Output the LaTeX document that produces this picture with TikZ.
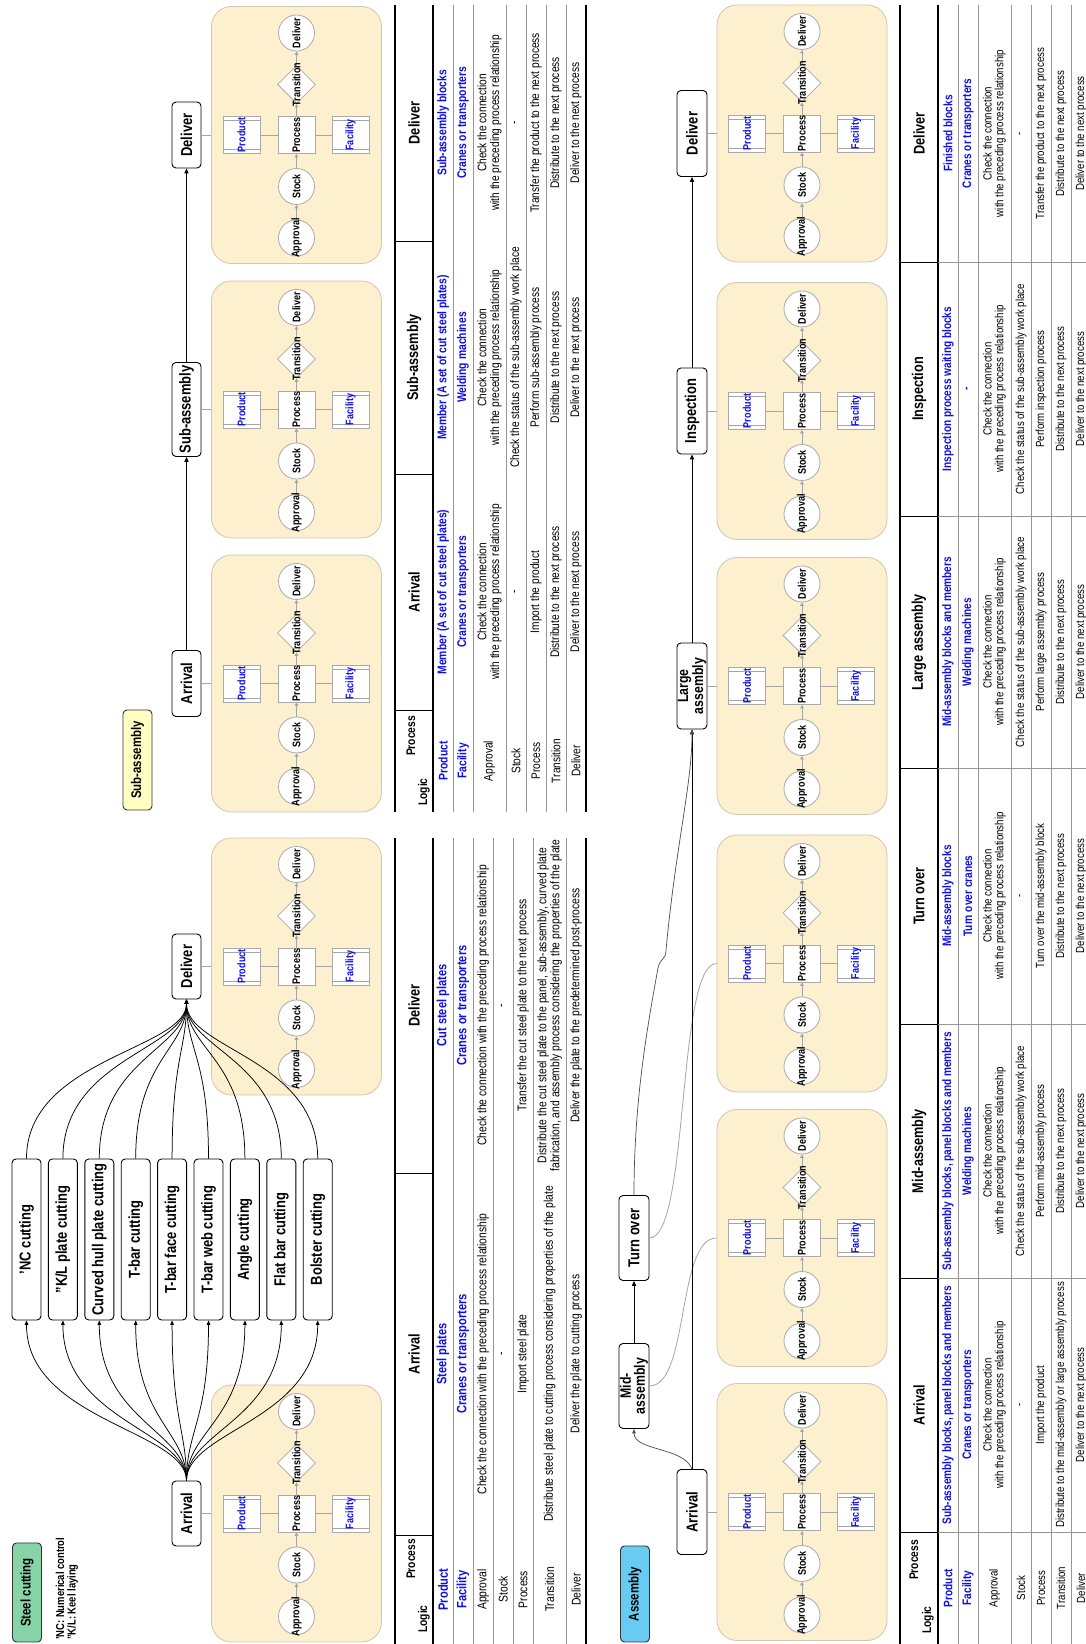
\documentclass[tikz,border=0pt]{standalone}
\usepackage{fontspec}
\setmainfont{Liberation Sans}[FakeStretch=0.82]
\usetikzlibrary{shapes.geometric,arrows.meta}

\definecolor{panelfill}{RGB}{253,240,207}
\definecolor{panelline}{RGB}{208,198,178}
\definecolor{shapeline}{RGB}{170,170,170}
\definecolor{linkgrey}{RGB}{165,165,165}
\definecolor{rulegrey}{RGB}{150,150,150}
\definecolor{itemblue}{RGB}{15,15,235}
\definecolor{tagsteel}{RGB}{134,212,168}
\definecolor{tagsub}{RGB}{255,255,196}
\definecolor{tagasm}{RGB}{104,204,242}

\tikzset{
  panelbox/.style={rectangle, draw=panelline, fill=panelfill, rounded corners=20pt,
    line width=0.8pt, minimum width=257pt, minimum height=170pt, inner sep=0pt},
  circ/.style={circle, draw=shapeline, fill=white, line width=0.8pt, minimum size=36pt, inner sep=0pt},
  sqbox/.style={rectangle, draw=shapeline, fill=white, line width=0.8pt, minimum size=37pt, inner sep=0pt},
  dia/.style={diamond, draw=shapeline, fill=white, line width=0.8pt, minimum width=38pt, minimum height=38pt, inner sep=0pt},
  lbl/.style={inner sep=0pt, font=\fontsize{11}{11}\selectfont\bfseries},
  garrow/.style={draw=linkgrey, line width=0.9pt, -{Triangle[length=3.5pt,width=3.6pt]}},
  gline/.style={draw=linkgrey, line width=0.8pt},
  stagebox/.style={rectangle, draw=black, fill=white, rounded corners=4pt, line width=0.9pt,
    inner sep=0pt, minimum height=29pt, align=center, font=\fontsize{15.8}{14.5}\selectfont\bfseries},
  twoline/.style={font=\fontsize{15}{14}\selectfont\bfseries},
  tagbox/.style={rectangle, draw=black!80, rounded corners=4pt, line width=0.9pt, inner sep=0pt,
    minimum height=29pt, font=\fontsize{14}{14}\selectfont\bfseries},
  flow/.style={draw=black, line width=1pt, -{Triangle[length=5pt,width=4.2pt]}},
  onion/.style={draw=black, line width=0.75pt, -{Triangle[length=4.5pt,width=3.6pt]}},
  thinflow/.style={draw=black!70, line width=0.7pt, -{Triangle[length=4.5pt,width=3.6pt]}},
  glink/.style={draw=linkgrey, line width=0.8pt},
  trule/.style={draw=black, line width=1.6pt},
  grule/.style={draw=rulegrey, line width=0.6pt},
  vrule/.style={draw=black, line width=0.8pt},
  hdr/.style={inner sep=0pt, font=\fontsize{15.5}{16}\selectfont\bfseries},
  corner/.style={inner sep=0pt, font=\fontsize{12.5}{13}\selectfont\bfseries},
  scell/.style={inner sep=0pt, align=center, font=\fontsize{12.6}{13}\selectfont},
  sblue/.style={scell, font=\fontsize{13.5}{13}\selectfont\bfseries, text=itemblue},
  ucell/.style={inner sep=0pt, align=center, font=\fontsize{12.4}{12.6}\selectfont},
  ublue/.style={ucell, font=\fontsize{12.6}{12.6}\selectfont\bfseries, text=itemblue},
  acell/.style={inner sep=0pt, align=center, font=\fontsize{11.8}{11.7}\selectfont},
  ablue/.style={acell, font=\fontsize{12.3}{11.7}\selectfont\bfseries, text=itemblue},
}

% one logic panel: approval -> stock -> process -> transition -> deliver,
% with product and facility attached to the process
\newcommand{\flowpanel}[3]{%
  \node[panelbox] (#1) at (#2,#3) {};
  \begin{scope}[xshift=#2pt,yshift=#3pt]
    \node[circ]  (#1-ap) at (-103,0) {};
    \node[circ]  (#1-st) at (-51.5,0) {};
    \node[sqbox] (#1-pc) at (0,0) {};
    \node[dia]   (#1-tr) at (50.5,0) {};
    \node[circ]  (#1-dl) at (102,0) {};
    \node[sqbox] (#1-pd) at (0,55) {};
    \node[sqbox] (#1-fa) at (0,-54) {};
    \draw[gline] (-14.5,36.5) -- (-14.5,73.5) (14.5,36.5) -- (14.5,73.5);
    \draw[gline] (-14.5,-72.5) -- (-14.5,-35.5) (14.5,-72.5) -- (14.5,-35.5);
  \end{scope}
  \draw[garrow] (#1-ap) -- (#1-st);
  \draw[garrow] (#1-st) -- (#1-pc);
  \draw[garrow] (#1-pc) -- (#1-tr);
  \draw[garrow] (#1-tr) -- (#1-dl);
  \draw[gline] (#1-pd) -- (#1-pc);
  \draw[gline] (#1-pc) -- (#1-fa);
  \node[lbl] at (#1-ap) {Approval};
  \node[lbl] at (#1-st) {Stock};
  \node[lbl] at (#1-pc) {Process};
  \node[lbl] at (#1-tr) {Transition};
  \node[lbl] at (#1-dl) {Deliver};
  \node[lbl, text=itemblue] at (#1-pd) {Product};
  \node[lbl, text=itemblue] at (#1-fa) {Facility};
}

\begin{document}
\begin{tikzpicture}[x=1pt,y=1pt,rotate=90,transform shape]
\useasboundingbox (0,0) rectangle (1644,-1086);
\fill[white] (0,0) rectangle (1644,-1086);

% ---------------- Steel cutting ----------------
\node[tagbox, fill=tagsteel, minimum width=99pt] (tsteel) at (51.5,-27) {Steel cutting};
\node[anchor=west, inner sep=0pt, align=left, font=\fontsize{11.5}{11.6}\selectfont\bfseries] (note) at (4,-67)
  {'NC: Numerical control\\''K/L: Keel laying};

\flowpanel{pA}{130.5}{-296.5}
\flowpanel{pB}{677.5}{-296.5}
\node[stagebox, minimum width=65pt] (sa) at (130.5,-186.5) {Arrival};
\node[stagebox, minimum width=65pt] (sd) at (677.5,-186.5) {Deliver};
\draw[glink] (sa.south) -- (pA.north);
\draw[glink] (sd.south) -- (pB.north);

\node[stagebox, minimum width=161pt] (c1) at (404.5,-26.5) {'NC cutting};
\node[stagebox, minimum width=161pt] (c2) at (404.5,-62.9) {''K/L plate cutting};
\node[stagebox, minimum width=161pt] (c3) at (404.5,-99.3) {Curved hull plate cutting};
\node[stagebox, minimum width=161pt] (c4) at (404.5,-135.7) {T-bar cutting};
\node[stagebox, minimum width=161pt] (c5) at (404.5,-172.1) {T-bar face cutting};
\node[stagebox, minimum width=161pt] (c6) at (404.5,-208.5) {T-bar web cutting};
\node[stagebox, minimum width=161pt] (c7) at (404.5,-244.9) {Angle cutting};
\node[stagebox, minimum width=161pt] (c8) at (404.5,-281.3) {Flat bar cutting};
\node[stagebox, minimum width=161pt] (c9) at (404.5,-317.7) {Bolster cutting};
\foreach \i in {1,...,9}{
  \draw[onion] (sa.east) .. controls +(50,0) and +(-100,0) .. (c\i.west);
  \draw[onion] (c\i.east) .. controls +(100,0) and +(-50,0) .. (sd.west);
}

% steel cutting table
\draw[trule] (0,-395) -- (806,-395);
\draw[trule] (0,-433) -- (806,-433);
\draw[trule] (0,-586) -- (806,-586);
\foreach \r in {453,473,493,513,533,566} \draw[grule] (0,-\r) -- (806,-\r);
\draw[vrule] (109,-395) -- (109,-433);
\draw[vrule] (471,-395) -- (471,-433);
\node[corner] at (85,-411) {Process};
\node[corner] at (25,-424) {Logic};
\node[hdr] at (290,-414) {Arrival};
\node[hdr] at (638.5,-414) {Deliver};
\node[sblue] at (54.5,-443) {Product};
\node[sblue] at (54.5,-463) {Facility};
\node[scell] at (54.5,-483) {Approval};
\node[scell] at (54.5,-503) {Stock};
\node[scell] at (54.5,-523) {Process};
\node[scell] at (54.5,-549.5) {Transition};
\node[scell] at (54.5,-576) {Deliver};
\node[sblue] at (290,-443) {Steel plates};
\node[sblue] at (290,-463) {Cranes or transporters};
\node[scell] at (290,-483) {Check the connection with the preceding process relationship};
\node[scell] at (290,-503) {-};
\node[scell] at (290,-523) {Import steel plate};
\node[scell] at (290,-549.5) {Distribute steel plate to cutting process considering properties of the plate};
\node[scell] at (290,-576) {Deliver the plate to cutting process};
\node[sblue] at (638.5,-443) {Cut steel plates};
\node[sblue] at (638.5,-463) {Cranes or transporters};
\node[scell] at (638.5,-483) {Check the connection with the preceding process relationship};
\node[scell] at (638.5,-503) {-};
\node[scell] at (638.5,-523) {Transfer the cut steel plate to the next process};
\node[scell] at (638.5,-549.5) {Distribute the cut steel plate to the panel, sub-assembly, curved plate\\fabrication, and assembly process considering the properties of the plate};
\node[scell] at (638.5,-576) {Deliver the plate to the predetermined post-process};

% ---------------- Sub-assembly ----------------
\node[tagbox, fill=tagsub, minimum width=100pt] (tsub) at (884,-137.5) {Sub-assembly};
\flowpanel{pC}{960.5}{-296.5}
\flowpanel{pD}{1234.5}{-296.5}
\flowpanel{pE}{1509}{-296.5}
\node[stagebox, minimum width=66pt] (ua) at (960.5,-186.5) {Arrival};
\node[stagebox, minimum width=94pt] (us) at (1234.5,-186.5) {Sub-assembly};
\node[stagebox, minimum width=66pt] (ud) at (1509,-186.5) {Deliver};
\draw[glink] (ua.south) -- (pC.north);
\draw[glink] (us.south) -- (pD.north);
\draw[glink] (ud.south) -- (pE.north);
\draw[flow] (ua) -- (us);
\draw[flow] (us) -- (ud);

% sub-assembly table
\draw[trule] (832,-395) -- (1639,-395);
\draw[trule] (832,-433) -- (1639,-433);
\draw[trule] (832,-586) -- (1639,-586);
\foreach \r in {453,473,506,526,546,566} \draw[grule] (832,-\r) -- (1639,-\r);
\foreach \c in {934,1170,1403} \draw[vrule] (\c,-395) -- (\c,-433);
\node[corner] at (908,-411) {Process};
\node[corner] at (852,-424) {Logic};
\node[hdr] at (1052,-414) {Arrival};
\node[hdr] at (1286.5,-414) {Sub-assembly};
\node[hdr] at (1521,-414) {Deliver};
\node[ublue] at (883,-443) {Product};
\node[ublue] at (883,-463) {Facility};
\node[ucell] at (883,-489.5) {Approval};
\node[ucell] at (883,-516) {Stock};
\node[ucell] at (883,-536) {Process};
\node[ucell] at (883,-556) {Transition};
\node[ucell] at (883,-576) {Deliver};
\node[ublue] at (1052,-443) {Member (A set of cut steel plates)};
\node[ublue] at (1052,-463) {Cranes or transporters};
\node[ucell] at (1052,-489.5) {Check the connection\\with the preceding process relationship};
\node[ucell] at (1052,-516) {-};
\node[ucell] at (1052,-536) {Import the product};
\node[ucell] at (1052,-556) {Distribute to the next process};
\node[ucell] at (1052,-576) {Deliver to the next process};
\node[ublue] at (1286.5,-443) {Member (A set of cut steel plates)};
\node[ublue] at (1286.5,-463) {Welding machines};
\node[ucell] at (1286.5,-489.5) {Check the connection\\with the preceding process relationship};
\node[ucell] at (1286.5,-516) {Check the status of the sub-assembly work place};
\node[ucell] at (1286.5,-536) {Perform sub-assembly process};
\node[ucell] at (1286.5,-556) {Distribute to the next process};
\node[ucell] at (1286.5,-576) {Deliver to the next process};
\node[ublue] at (1521,-443) {Sub-assembly blocks};
\node[ublue] at (1521,-463) {Cranes or transporters};
\node[ucell] at (1521,-489.5) {Check the connection\\with the preceding process relationship};
\node[ucell] at (1521,-516) {-};
\node[ucell] at (1521,-536) {Transfer the product to the next process};
\node[ucell] at (1521,-556) {Distribute to the next process};
\node[ucell] at (1521,-576) {Deliver to the next process};

% ---------------- Assembly ----------------
\node[tagbox, fill=tagasm, minimum width=96pt] (tasm) at (50,-635) {Assembly};
\flowpanel{qA}{132}{-802}
\flowpanel{qB}{406}{-802}
\flowpanel{qC}{680.5}{-802}
\flowpanel{qD}{958}{-802}
\flowpanel{qE}{1233}{-802}
\flowpanel{qF}{1510.5}{-802}
\node[stagebox, minimum width=85pt, minimum height=30pt] (ba) at (132,-692) {Arrival};
\node[stagebox, twoline, minimum width=85pt, minimum height=30pt] (bma) at (258,-634) {Mid-\\assembly};
\node[stagebox, minimum width=85pt, minimum height=30pt] (bto) at (406,-634) {Turn over};
\node[stagebox, twoline, minimum width=86pt, minimum height=30pt] (bla) at (958,-692) {Large\\assembly};
\node[stagebox, minimum width=86pt, minimum height=30pt] (bin) at (1233,-692) {Inspection};
\node[stagebox, minimum width=86pt, minimum height=30pt] (bde) at (1510.5,-692) {Deliver};

\draw[glink] (ba.south) -- (qA.north);
\draw[glink] (bma.south) .. controls +(0,-40) and +(0,40) .. (qB.north);
\draw[glink] (bto.south) .. controls +(0,-40) and +(0,40) .. (qC.north);
\draw[glink] (bla.south) -- (qD.north);
\draw[glink] (bin.south) -- (qE.north);
\draw[glink] (bde.south) -- (qF.north);

\draw[flow, line width=0.9pt] (ba.east) -- (bla.west);
\draw[thinflow] (ba.east) .. controls +(22,8) and +(-22,0) .. (bma.west);
\draw[flow] (bma) -- (bto);
\draw[thinflow] (bto.east) .. controls (540,-634) and (610,-646) .. (676,-658)
  .. controls (686,-660) and (684,-666) .. (694,-666)
  .. controls (800,-676) and (860,-692) .. (bla.west);
\draw[flow] (bla) -- (bin);
\draw[flow] (bin) -- (bde);

% assembly table
\draw[trule] (0,-900) -- (1639,-900);
\draw[trule] (0,-938) -- (1639,-938);
\foreach \r in {958,978,1011,1031,1051,1071} \draw[grule] (0,-\r) -- (1639,-\r);
\foreach \c in {112,366,620,876,1128,1382}{
  \draw[vrule] (\c,-900) -- (\c,-938);
  \draw[grule] (\c,-938) -- (\c,-1086);
}
\node[corner] at (84,-914) {Process};
\node[corner] at (24,-928) {Logic};
\node[hdr] at (239,-919) {Arrival};
\node[hdr] at (493,-919) {Mid-assembly};
\node[hdr] at (748,-919) {Turn over};
\node[hdr] at (1002,-919) {Large assembly};
\node[hdr] at (1255,-919) {Inspection};
\node[hdr] at (1510.5,-919) {Deliver};
\node[ablue] at (56,-948) {Product};
\node[ablue] at (56,-968) {Facility};
\node[acell] at (56,-994.5) {Approval};
\node[acell] at (56,-1021) {Stock};
\node[acell] at (56,-1041) {Process};
\node[acell] at (56,-1061) {Transition};
\node[acell] at (56,-1081) {Deliver};
% arrival
\node[ablue] at (239,-948) {Sub-assembly blocks, panel blocks and members};
\node[ablue] at (239,-968) {Cranes or transporters};
\node[acell] at (239,-994.5) {Check the connection\\with the preceding process relationship};
\node[acell] at (239,-1021) {-};
\node[acell] at (239,-1041) {Import the product};
\node[acell] at (239,-1061) {Distribute to the mid-assembly or large assembly process};
\node[acell] at (239,-1081) {Deliver to the next process};
% mid-assembly
\node[ablue] at (493,-948) {Sub-assembly blocks, panel blocks and members};
\node[ablue] at (493,-968) {Welding machines};
\node[acell] at (493,-994.5) {Check the connection\\with the preceding process relationship};
\node[acell] at (493,-1021) {Check the status of the sub-assembly work place};
\node[acell] at (493,-1041) {Perform mid-assembly process};
\node[acell] at (493,-1061) {Distribute to the next process};
\node[acell] at (493,-1081) {Deliver to the next process};
% turn over
\node[ablue] at (748,-948) {Mid-assembly blocks};
\node[ablue] at (748,-968) {Turn over cranes};
\node[acell] at (748,-994.5) {Check the connection\\with the preceding process relationship};
\node[acell] at (748,-1021) {-};
\node[acell] at (748,-1041) {Turn over the mid-assembly block};
\node[acell] at (748,-1061) {Distribute to the next process};
\node[acell] at (748,-1081) {Deliver to the next process};
% large assembly
\node[ablue] at (1002,-948) {Mid-assembly blocks and members};
\node[ablue] at (1002,-968) {Welding machines};
\node[acell] at (1002,-994.5) {Check the connection\\with the preceding process relationship};
\node[acell] at (1002,-1021) {Check the status of the sub-assembly work place};
\node[acell] at (1002,-1041) {Perform large assembly process};
\node[acell] at (1002,-1061) {Distribute to the next process};
\node[acell] at (1002,-1081) {Deliver to the next process};
% inspection
\node[ablue] at (1255,-948) {Inspection process waiting blocks};
\node[ablue] at (1255,-968) {-};
\node[acell] at (1255,-994.5) {Check the connection\\with the preceding process relationship};
\node[acell] at (1255,-1021) {Check the status of the sub-assembly work place};
\node[acell] at (1255,-1041) {Perform inspection process};
\node[acell] at (1255,-1061) {Distribute to the next process};
\node[acell] at (1255,-1081) {Deliver to the next process};
% deliver
\node[ablue] at (1510.5,-948) {Finished blocks};
\node[ablue] at (1510.5,-968) {Cranes or transporters};
\node[acell] at (1510.5,-994.5) {Check the connection\\with the preceding process relationship};
\node[acell] at (1510.5,-1021) {-};
\node[acell] at (1510.5,-1041) {Transfer the product to the next process};
\node[acell] at (1510.5,-1061) {Distribute to the next process};
\node[acell] at (1510.5,-1081) {Deliver to the next process};
\end{tikzpicture}
\end{document}
